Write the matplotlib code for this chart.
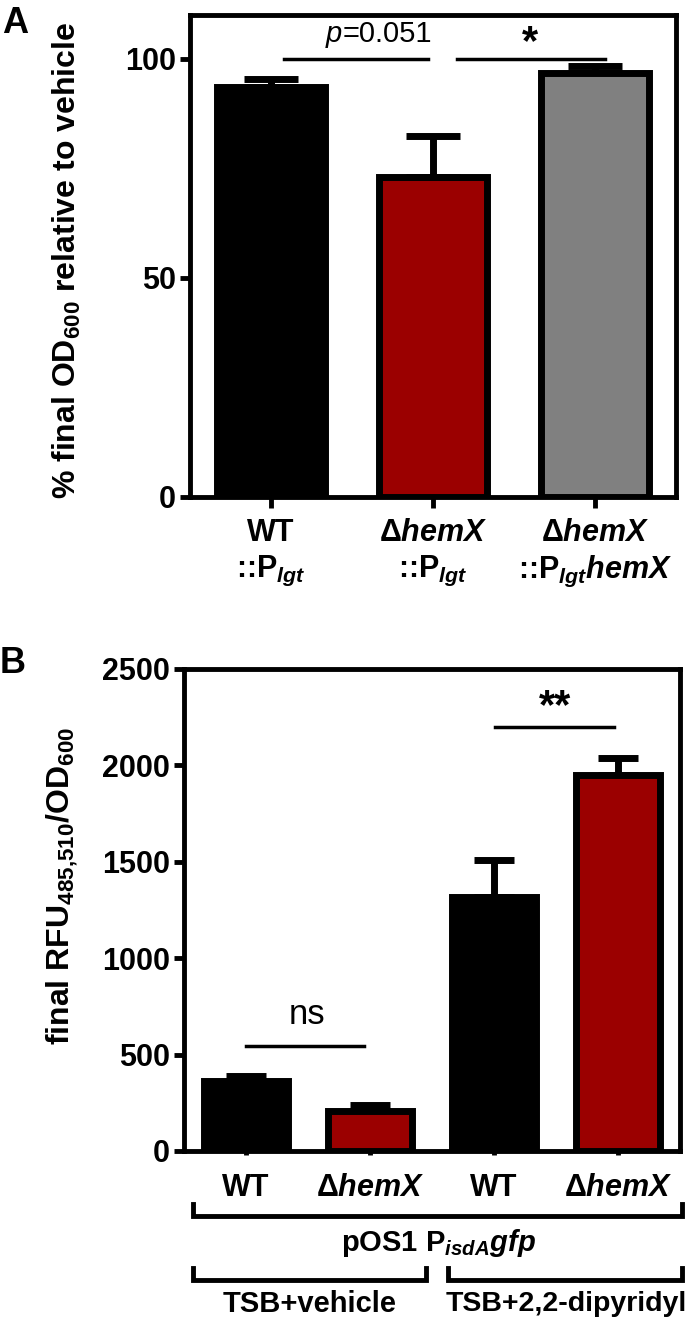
import matplotlib
matplotlib.use("Agg")
import matplotlib.pyplot as plt
import numpy as np

plt.rcParams['font.family'] = ['Liberation Sans', 'DejaVu Sans']
plt.rcParams['font.weight'] = 'bold'
plt.rcParams['axes.labelweight'] = 'bold'
plt.rcParams['mathtext.fontset'] = 'custom'
plt.rcParams['mathtext.rm'] = 'Liberation Sans:bold'
plt.rcParams['mathtext.bf'] = 'Liberation Sans:bold'
plt.rcParams['mathtext.it'] = 'Liberation Sans:bold:italic'

# ---------------- data ----------------
a_labels = ["WT\n::P$_{\\mathit{lgt}}$",
            "Δ$\\mathit{hemX}$\n::P$_{\\mathit{lgt}}$",
            "Δ$\\mathit{hemX}$\n::P$_{\\mathit{lgt}}\\mathit{hemX}$"]
a_values = [93.5, 73.0, 96.8]
a_errors = [1.8, 9.3, 1.5]
a_colors = ["#000000", "#9B0000", "#808080"]

b_labels = ["WT", "Δ$\\mathit{hemX}$", "WT", "Δ$\\mathit{hemX}$"]
b_values = [365, 205, 1320, 1950]
b_errors = [25, 33, 190, 88]
b_colors = ["#000000", "#9B0000", "#000000", "#9B0000"]

W, H = 700, 1321
fig = plt.figure(figsize=(W / 100, H / 100), dpi=100)

def px_axes(l, r, t, b):
    return fig.add_axes([l / W, 1 - b / H, (r - l) / W, (b - t) / H])

def style(ax):
    for s in ax.spines.values():
        s.set_linewidth(3.5)
    ax.tick_params(axis='y', length=7, width=3.5, labelsize=22, pad=3)

# ---------------- Panel A ----------------
axA = px_axes(190, 676, 15, 497)
xa = np.arange(len(a_values))
axA.bar(xa, a_values, width=0.67, color=a_colors, edgecolor='black', linewidth=5, zorder=3)
axA.errorbar(xa, a_values, yerr=[np.zeros(len(a_errors)), a_errors], fmt='none',
             ecolor='black', elinewidth=5, capsize=19.5, capthick=5, zorder=2)
axA.set_xlim(-0.5, 2.5)
axA.set_ylim(0, 110)
axA.set_yticks([0, 50, 100])
axA.set_xticks(xa)
axA.set_xticklabels(a_labels, fontsize=22, linespacing=1.25)
style(axA)
axA.tick_params(axis='x', length=8, width=3.5, pad=7)
axA.set_ylabel("% final OD$_{\\mathrm{600}}$ relative to vehicle", fontsize=23, va='center')
axA.yaxis.set_label_coords((67 - 190) / 486, 0.49)

axA.plot([0.08, 0.97], [100, 100], color='black', lw=2.5)
axA.text(0.44, 102.5, "p", ha='right', va='bottom', fontsize=21,
         fontweight='normal', fontstyle='italic')
axA.text(0.44, 102.5, "=0.051", ha='left', va='bottom', fontsize=21, fontweight='normal')
axA.plot([1.15, 2.06], [100, 100], color='black', lw=2.5)
axA.text(1.6, 99.0, "*", ha='center', va='bottom', fontsize=30, fontweight='bold')

fig.text(2 / W, 1 - 33 / H, "A", fontsize=26, fontweight='bold')

# ---------------- Panel B ----------------
axB = px_axes(184, 680, 669, 1151)
xb = np.arange(len(b_values))
axB.bar(xb, b_values, width=0.67, color=b_colors, edgecolor='black', linewidth=5, zorder=3)
axB.errorbar(xb, b_values, yerr=[np.zeros(len(b_errors)), b_errors], fmt='none',
             ecolor='black', elinewidth=5, capsize=14.5, capthick=5, zorder=2)
axB.set_xlim(-0.5, 3.5)
axB.set_ylim(0, 2500)
axB.set_yticks([0, 500, 1000, 1500, 2000, 2500])
axB.set_xticks(xb)
axB.set_xticklabels(b_labels, fontsize=22)
style(axB)
axB.tick_params(axis='x', length=3, width=3.5, pad=13)
axB.set_ylabel("final RFU$_{\\mathrm{485{,}510}}$/OD$_{\\mathrm{600}}$", fontsize=23, va='center')
axB.yaxis.set_label_coords((62 - 184) / 496, 0.55)

axB.plot([0.0, 0.95], [545, 545], color='black', lw=2.5)
axB.text(0.49, 620, "ns", ha='center', va='bottom', fontsize=25, fontweight='normal')
axB.plot([2.01, 2.97], [2200, 2200], color='black', lw=2.5)
axB.text(2.49, 2200, "**", ha='center', va='bottom', fontsize=30, fontweight='bold')

tr = axB.get_xaxis_transform()
def bracket(x0, x1, ybar, yend):
    axB.plot([x0, x0, x1, x1], [yend, ybar, ybar, yend], color='black', lw=3.5,
             transform=tr, clip_on=False, solid_joinstyle='miter')

bracket(-0.43, 3.52, -0.135, -0.11)
axB.text(1.55, -0.19, "pOS1 P$_{\\mathit{isdA}}\\mathit{gfp}$", transform=tr,
         ha='center', va='center', fontsize=21)
bracket(-0.43, 1.455, -0.268, -0.243)
bracket(1.633, 3.52, -0.268, -0.243)
axB.text(0.51, -0.318, "TSB+vehicle", transform=tr, ha='center', va='center', fontsize=21)
axB.text(1.61, -0.318, "TSB+2,2-dipyridyl", transform=tr, ha='left', va='center', fontsize=20.5)

fig.text(0 / W, 1 - 673 / H, "B", fontsize=26, fontweight='bold')

fig.savefig("out.png", dpi=100)
